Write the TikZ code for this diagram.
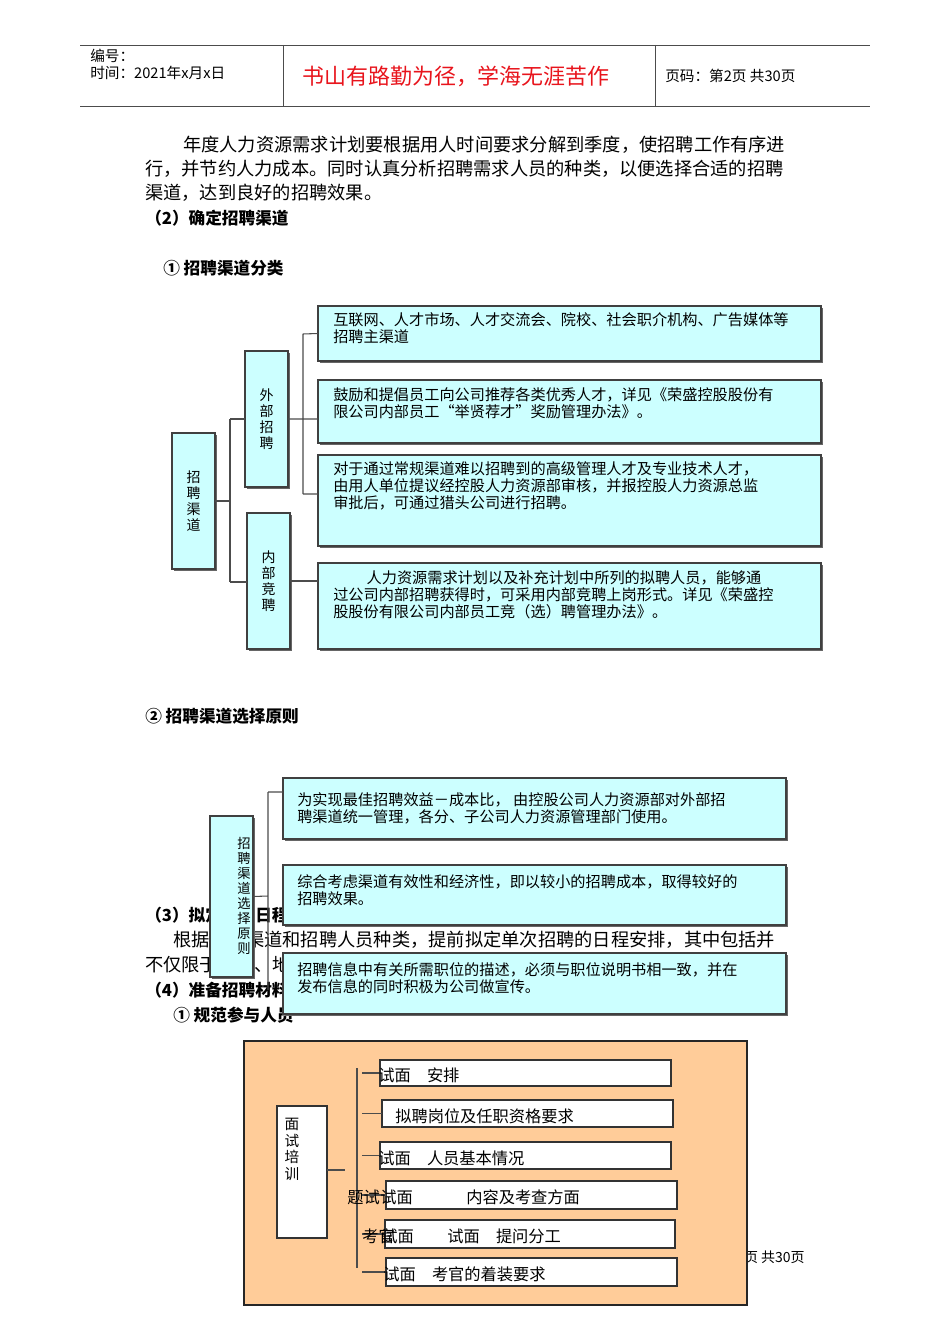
\documentclass[tikz,border=0pt]{standalone}
\usepackage{fontspec}
\setmainfont{Noto Sans CJK SC}
\usetikzlibrary{positioning}
\definecolor{boxcyan}{HTML}{CCFFFF}
\definecolor{boxorange}{HTML}{FFCC99}
\definecolor{titlered}{HTML}{E8141C}
\tikzset{
  px/.style={x=0.0264cm,y=-0.0264cm},
  body/.style={anchor=west,inner sep=0pt,font=\fontsize{13.7}{16}\selectfont},
  head/.style={anchor=west,inner sep=0pt,font=\fontsize{12.5}{15}\selectfont\bfseries},
  cbox/.style={draw=black!75,line width=1pt,fill=boxcyan},
  shade/.style={fill=black!60},
  btext/.style={anchor=north west,inner sep=0pt,align=left,font=\fontsize{11.4}{12.8}\selectfont},
  vtext/.style={inner sep=0pt,align=center,font=\fontsize{10.5}{12}\selectfont},
  wbox/.style={draw=black!80,line width=0.8pt,fill=white},
  link/.style={draw=black!70,line width=0.8pt}
}
\begin{document}
\begin{tikzpicture}[px]
\useasboundingbox (0,0) rectangle (950,1344);
% header
\draw[black!70] (80,45) -- (870,45) (80,106) -- (870,106) (283,45) -- (283,106) (655,45) -- (655,106);
\node[body,font=\fontsize{11}{13}\selectfont] (hnum) at (90,56) {编号：};
\node[body,font=\fontsize{11}{13}\selectfont] (htime) at (90,73) {时间：2021年x月x日};
\node[inner sep=0pt,text=titlered,font=\fontsize{16.5}{19}\selectfont] (htitle) at (456,76) {书山有路勤为径，学海无涯苦作};
\node[body,font=\fontsize{11}{13}\selectfont] (hpage) at (665,76) {页码：第2页 共30页};
% body text
\node[body] (p1) at (183,145) {年度人力资源需求计划要根据用人时间要求分解到季度，使招聘工作有序进};
\node[body] (p2) at (145,169) {行，并节约人力成本。同时认真分析招聘需求人员的种类，以便选择合适的招聘};
\node[body] (p3) at (145,193) {渠道，达到良好的招聘效果。};
\node[head] (s2) at (145,218) {（2）确定招聘渠道};
\node[head] (s21) at (163,268) {① 招聘渠道分类};
\node[head] (s22) at (145,716) {② 招聘渠道选择原则};
\node[head] (s3) at (145,915) {（3）拟定招聘日程};
\node[body] (p4) at (173,940) {根据招聘渠道和招聘人员种类，提前拟定单次招聘的日程安排，其中包括并};
\node[body] (p5) at (145,965) {不仅限于时间、地点、参与人员、招聘流程、面试方式等内容。};
\node[head] (s4) at (145,990) {（4）准备招聘材料};
\node[head] (s41) at (173,1015) {① 规范参与人员};
\node[body,font=\fontsize{10.5}{12}\selectfont] (foot) at (722,1257) {第2页 共30页};
% diagram 1
\foreach \name/\xa/\ya/\xb/\yb in {
    root/172/433/215/569, ext/245/351/288/487, int/247/513/290/649,
    e1/318/306/821/361, e2/318/380/821/443, e3/318/455/821/546, i1/318/563/821/649}{
  \fill[shade] (\xa+2,\ya+2) rectangle (\xb+2,\yb+2);
  \draw[cbox] (\xa,\ya) rectangle (\xb,\yb);
  \coordinate (\name) at ({(\xa+\xb)/2},{(\ya+\yb)/2});
  \coordinate (\name-w) at (\xa,{(\ya+\yb)/2});
  \coordinate (\name-e) at (\xb,{(\ya+\yb)/2});
}
\node[vtext] at (root) {招\\聘\\渠\\道};
\node[vtext] at (ext) {外\\部\\招\\聘};
\node[vtext] at (int) {内\\部\\竞\\聘};
\node[btext] at (333,312) {互联网、人才市场、人才交流会、院校、社会职介机构、广告媒体等\\招聘主渠道};
\node[btext] at (333,387) {鼓励和提倡员工向公司推荐各类优秀人才，详见《荣盛控股股份有\\限公司内部员工“举贤荐才”奖励管理办法》。};
\node[btext] at (333,461) {对于通过常规渠道难以招聘到的高级管理人才及专业技术人才，\\由用人单位提议经控股人力资源部审核，并报控股人力资源总监\\审批后，可通过猎头公司进行招聘。};
\node[btext] at (333,570) {\hspace{2.2em}人力资源需求计划以及补充计划中所列的拟聘人员，能够通\\过公司内部招聘获得时，可采用内部竞聘上岗形式。详见《荣盛控\\股股份有限公司内部员工竞（选）聘管理办法》。};
\draw[link] (root-e) -- (230,501) (230,419) -- (230,582)
  (230,419) -- (ext-w) (230,582) -- (247,582);
\draw[link] (ext-e) -- (303,419) (303,334) -- (303,494)
  (303,334) -- (e1-w) (303,419) -- (318,419) (303,494) -- (318,494);
\draw[link] (int-e) -- (318,581);
% diagram 2
\foreach \name/\xa/\ya/\xb/\yb in {
    prin/210/816/253/977, r1/283/778/786/839, r2/283/865/786/925, r3/283/953/786/1014}{
  \fill[shade] (\xa+2,\ya+2) rectangle (\xb+2,\yb+2);
  \draw[cbox] (\xa,\ya) rectangle (\xb,\yb);
  \coordinate (\name) at ({(\xa+\xb)/2},{(\ya+\yb)/2});
  \coordinate (\name-e) at (\xb,{(\ya+\yb)/2});
}
\node[vtext,font=\fontsize{10}{11.2}\selectfont] at (244,896) {招\\聘\\渠\\道\\选\\择\\原\\则};
\node[btext] at (297,792) {为实现最佳招聘效益－成本比，\ 由控股公司人力资源部对外部招\\聘渠道统一管理，各分、子公司人力资源管理部门使用。};
\node[btext] at (297,874) {综合考虑渠道有效性和经济性，即以较小的招聘成本，取得较好的\\招聘效果。};
\node[btext] at (297,962) {招聘信息中有关所需职位的描述，必须与职位说明书相一致，并在\\发布信息的同时积极为公司做宣传。};
\draw[link] (prin-e) -- (268,896) (268,792) -- (268,990) (268,792) -- (283,792);
% diagram 3
\draw[black!85,line width=1pt,fill=boxorange] (244,1041) rectangle (747,1305);
\draw[wbox] (277,1106) rectangle (327,1238);
\coordinate (train-e) at (327,1170);
\node[vtext,anchor=north,font=\fontsize{11}{12.5}\selectfont] at (292,1118) {面\\试\\培\\训};
\draw[link] (train-e) -- (345,1170) (357,1068) -- (357,1268);
\foreach \name/\xa/\ya/\xb/\yb in {
    t1/380/1060/671/1086, t2/382/1100/673/1127, t3/380/1142/671/1169,
    t4/386/1181/677/1209, t5/385/1220/675/1248, t6/386/1258/677/1286}{
  \draw[wbox] (\xa,\ya) rectangle (\xb,\yb);
  \coordinate (\name-w) at (\xa,{(\ya+\yb)/2});
  \draw[link] (362,{(\ya+\yb)/2}) -- (\name-w);
}
\tikzset{otext/.style={body,font=\fontsize{12.2}{14}\selectfont}}
\node[otext] at (378,1075) {试面\quad 安排};
\node[otext] at (395,1116) {拟聘岗位及任职资格要求};
\node[otext] at (378,1158) {试面\quad 人员基本情况};
\node[otext] at (347,1197) {题试};
\node[otext] at (380,1197) {试面};
\node[otext] at (466,1197) {内容及考查方面};
\node[otext] at (362,1236) {考官};
\node[otext] at (381,1236) {试面};
\node[otext] at (447,1236) {试面\quad 提问分工};
\node[otext] at (383,1274) {试面\quad 考官的着装要求};
\end{tikzpicture}
\end{document}
